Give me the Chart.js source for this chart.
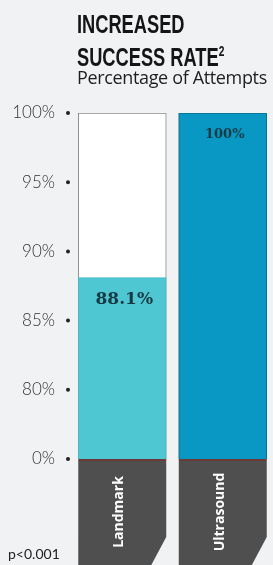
<!DOCTYPE html>
<html>
<head>
<meta charset="utf-8">
<script src="https://cdn.jsdelivr.net/npm/chart.js@4"></script>
<style>
  html, body { margin: 0; padding: 0; background: #f0f2f3; }
  #wrap { position: relative; width: 273px; height: 565px; overflow: hidden; }
  #myChart { position: absolute; left: 0; top: 0; }
  .title {
    position: absolute; left: 77px; top: 10px;
    font-family: "Liberation Sans Narrow", "Liberation Sans", sans-serif;
    font-weight: bold; font-size: 25px; line-height: 28px; color: #151515;
    transform: scaleX(0.73); transform-origin: left top; white-space: nowrap;
  }
  .title sup { font-size: 14px; position: relative; top: -1px; }
  .subtitle {
    position: absolute; left: 77px; top: 67px;
    font-family: "Open Sans", sans-serif; font-size: 18px; line-height: 20px;
    color: #1e1e1e; white-space: nowrap; letter-spacing: -0.35px;
  }
  .pval {
    position: absolute; left: 8px; top: 545px;
    font-family: Lato, sans-serif; font-weight: 400; font-size: 14px; color: #222;
  }
</style>
</head>
<body>
<div id="wrap">
  <canvas id="myChart" width="273" height="565"></canvas>
  <div class="title">INCREASED<br>SUCCESS RATE<sup>2</sup></div>
  <div class="subtitle">Percentage of Attempts</div>
  <div class="pval">p&lt;0.001</div>
</div>
<script>
// DATA
const categories = ["Landmark", "Ultrasound"];
const successRates = [88.1, 100];
const trackValues = [100, 100];
const valueLabels = ["88.1%", "100%"];
const yTickValues = [75, 80, 85, 90, 95, 100];
const yTickLabels = ["0%", "80%", "85%", "90%", "95%", "100%"];

const ctx = document.querySelector("#myChart");

// dots next to the y tick labels
const tickDots = {
  id: "tickDots",
  afterDraw(chart) {
    const c = chart.ctx;
    const y = chart.scales.y;
    c.save();
    c.fillStyle = "#222";
    y.ticks.forEach((t) => {
      c.beginPath();
      c.arc(68, y.getPixelForValue(t.value), 2, 0, Math.PI * 2);
      c.fill();
    });
    c.restore();
  },
};

// value text inside the bars + dark category tabs under the bars
const barExtras = {
  id: "barExtras",
  afterDatasetsDraw(chart) {
    const c = chart.ctx;
    const meta = chart.getDatasetMeta(1);
    const bottom = chart.chartArea.bottom;
    const sizes = [17, 13];
    const offsets = [22, 22];
    c.save();
    meta.data.forEach((bar, i) => {
      const left = bar.x - bar.width / 2;
      const right = bar.x + bar.width / 2;

      // value label
      c.fillStyle = "#173a44";
      c.font = "bold " + sizes[i] + "px 'DejaVu Serif', serif";
      c.textAlign = "center";
      c.textBaseline = "middle";
      c.fillText(valueLabels[i], bar.x + 2, bar.y + offsets[i]);

      // tab
      c.fillStyle = "#4f4f4f";
      c.beginPath();
      c.moveTo(left, bottom + 2);
      c.lineTo(right, bottom + 2);
      c.lineTo(right, bottom + 78);
      c.lineTo(right - 16, bottom + 108);
      c.lineTo(left, bottom + 108);
      c.closePath();
      c.fill();
      c.fillStyle = "#6b3a36";
      c.fillRect(left, bottom, right - left, 2);

      // rotated category label
      c.save();
      c.translate(bar.x - 3, bottom + 53);
      c.rotate(-Math.PI / 2);
      c.fillStyle = "#ffffff";
      c.font = "bold 14px 'Open Sans', sans-serif";
      c.textAlign = "center";
      c.textBaseline = "middle";
      c.fillText(categories[i], 0, 0);
      c.restore();
    });
    c.restore();
  },
};

const chart = new Chart(ctx, {
  type: "bar",
  data: {
    labels: categories,
    datasets: [
      {
        label: "track",
        data: trackValues,
        backgroundColor: "#ffffff",
        borderColor: "#8a8a8a",
        borderWidth: 1,
        barThickness: 88,
        grouped: false,
        order: 2,
      },
      {
        label: "Success rate",
        data: successRates,
        backgroundColor: ["#4ec7d3", "#0898c3"],
        borderColor: ["#45b9c6", "#0a6f8e"],
        borderWidth: 1,
        barThickness: 88,
        grouped: false,
        order: 1,
      },
    ],
  },
  options: {
    responsive: false,
    animation: false,
    layout: { padding: { top: 113, bottom: 106, left: 0, right: 0 } },
    plugins: {
      legend: { display: false },
      tooltip: { enabled: false },
    },
    scales: {
      x: { display: false },
      y: {
        min: 75,
        max: 100,
        afterBuildTicks: (scale) => {
          scale.ticks = yTickValues.map((v) => ({ value: v }));
        },
        afterFit: (scale) => {
          scale.width = 72;
        },
        grid: { display: false, drawTicks: false },
        border: { display: false },
        ticks: {
          padding: 17,
          color: "#333",
          font: { family: "Lato", weight: 300, size: 17 },
          callback: (value) => yTickLabels[yTickValues.indexOf(value)],
        },
      },
    },
  },
  plugins: [tickDots, barExtras],
});
</script>
</body>
</html>
